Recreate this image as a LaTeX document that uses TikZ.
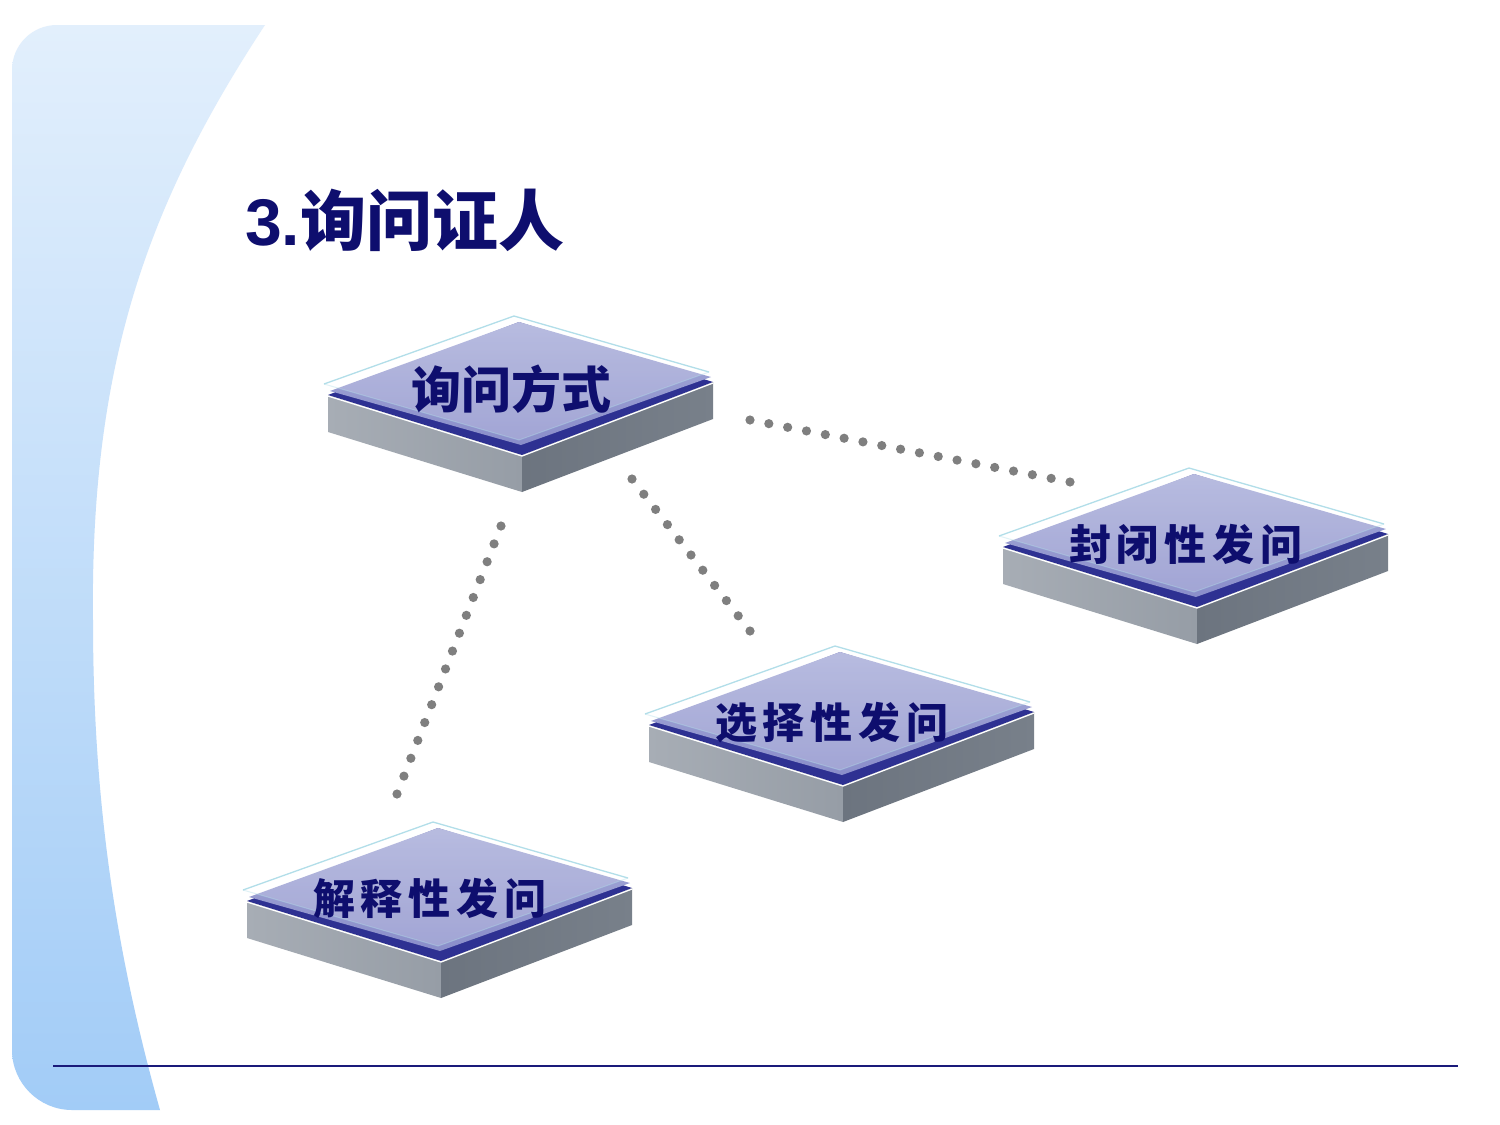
\documentclass[tikz,border=0pt]{standalone}
\usepackage{fontspec}
\setmainfont{Liberation Sans}
\newfontfamily\cjk{Noto Sans CJK SC}
\usetikzlibrary{calc}
\definecolor{navy}{HTML}{0E0E6E}
\definecolor{faceDark}{HTML}{2E3192}
\definecolor{faceTop}{HTML}{A6ABD8}
\definecolor{faceBot}{HTML}{8A8ECA}
\definecolor{sideLa}{HTML}{A7ADB5}
\definecolor{sideLb}{HTML}{969DA6}
\definecolor{sideRa}{HTML}{6C747F}
\definecolor{sideRb}{HTML}{78808A}
\definecolor{glassLine}{HTML}{B2DEE9}
\definecolor{dotgray}{HTML}{7F7F7F}
\definecolor{bgTop}{HTML}{E2EFFC}
\definecolor{bgBot}{HTML}{A2CCF7}
\definecolor{rulecol}{HTML}{1A1A7A}
\tikzset{
  lblbig/.style={anchor=base,inner sep=0pt,text=navy,font=\cjk\bfseries\fontsize{50}{56}\selectfont},
  lblsmall/.style={anchor=base,inner sep=0pt,text=navy,font=\cjk\bfseries\fontsize{42}{48}\selectfont},
  dotc/.style={fill=dotgray},
}
\newcommand\spc{\hspace{6pt}}
% #1 name, #2 x, #3 y (front corner of top face), #4 label style, #5 text
\newcommand\platform[5]{%
\begin{scope}[shift={(#2,#3)}]
  \path[left color=sideLa,right color=sideLb] (-194,-60) -- (0,0) -- (0,37) -- (-194,-23) -- cycle;
  \path[left color=sideRa,right color=sideRb] (0,0) -- (191,-73) -- (191,-36) -- (0,37) -- cycle;
  \fill[faceDark] (-194,-60) -- (0,0) -- (191,-73) -- (-3,-133) -- cycle;
  \path[top color=faceTop,bottom color=faceBot] (-192,-64) -- (-1,-10) -- (189,-78) -- (-3,-133) -- cycle;
  \draw[white,line width=1.3pt] (-194,-59) -- (0,1) -- (191,-72);
  \fill[white,opacity=.2] (-198,-71) -- (-3,-15) -- (187,-83) -- (-8,-139) -- cycle;
  \draw[glassLine,opacity=.4,line width=1pt] (-198,-71) -- (-3,-15) -- (187,-83);
  \draw[glassLine,line width=1.3pt] (-198,-71) -- (-8,-139) -- (187,-83);
  \node[#4] (#1) at (-11,-47) {#5};
\end{scope}}
\begin{document}
\begin{tikzpicture}[x=1pt,y=-1pt]
\useasboundingbox (0,0) rectangle (1500,1125);
\fill[white] (0,0) rectangle (1500,1125);
% background band
\path[top color=bgTop,bottom color=bgBot]
  (57,25) -- (265,25) .. controls (150,200) and (90,360) .. (93,620)
  .. controls (93,800) and (115,950) .. (160,1110) -- (72,1110)
  .. controls (39,1110) and (12,1083) .. (12,1050) -- (12,70)
  .. controls (12,45) and (32,25) .. (57,25) -- cycle;
\draw[rulecol,line width=1.6pt] (53,1066) -- (1458,1066);
% title
\node[anchor=base west,inner sep=0pt,text=navy,font=\bfseries\fontsize{66}{72}\selectfont] (title) at (245,245) {3.{\cjk 询问证人}};
% platforms
\platform{pA}{522}{455}{lblbig}{询问方式}
\platform{pB}{1197}{607}{lblsmall}{封\spc 闭\spc 性\spc 发\spc 问}
\platform{pC}{843}{785}{lblsmall}{选\spc 择\spc 性\spc 发\spc 问}
\platform{pD}{441}{961}{lblsmall}{解\spc 释\spc 性\spc 发\spc 问}
% connector ends
\coordinate (a1) at (501,526); \coordinate (a2) at (397,794);
\coordinate (b1) at (632,479); \coordinate (b2) at (750,631);
\coordinate (c1) at (750,420); \coordinate (c2) at (1070,482);
\foreach \i in {0,...,15} \fill[dotc] ($(a1)!\i/15!(a2)$) circle (4.6pt);
\foreach \i in {0,...,10} \fill[dotc] ($(b1)!\i/10!(b2)$) circle (4.6pt);
\foreach \i in {0,...,17} \fill[dotc] ($(c1)!\i/17!(c2)$) circle (4.6pt);
\end{tikzpicture}
\end{document}
